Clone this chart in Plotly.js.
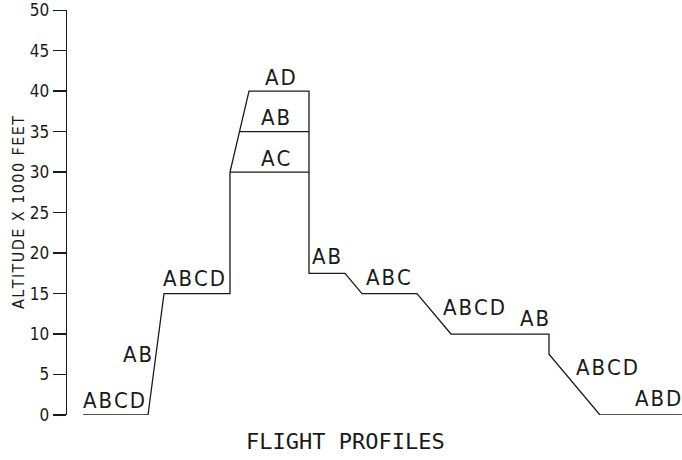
<!DOCTYPE html>
<html>
<head>
<meta charset="utf-8">
<script src="https://cdn.plot.ly/plotly-3.0.1.min.js"></script>
<style>
  html, body { margin: 0; padding: 0; background: #fff; }
  #chart { width: 682px; height: 460px; }
</style>
</head>
<body>
<div id="chart"></div>
<script>
// flight profile (x = distance along the route, arbitrary units; y = altitude in 1000 ft)
var profileX   = [16, 81, 97, 163, 163, 182, 242, 242, 278, 295, 350, 384, 482, 482, 533, 615];
var profileAlt = [0, 0, 15, 15, 30, 40, 40, 17.5, 17.5, 15, 15, 10, 10, 7.5, 0, 0];

// alternative cruise levels inside the top block
var level35X = [173, 242];
var level35Alt = [35, 35];
var level30X = [163, 242];
var level30Alt = [30, 30];

// segment labels
var labelText = ["ABCD", "AB", "ABCD", "AD", "AB", "AC", "AB", "ABC", "ABCD", "AB", "ABCD", "ABD"];
var labelX    = [46.5, 70.5, 126.5, 213, 208.5, 208, 259.5, 321, 406.5, 467, 540, 590.5];
var labelY    = [1.85, 7.5, 16.9, 41.7, 36.7, 31.7, 19.6, 17.0, 13.3, 11.9, 5.9, 2.0];

var yTicks = [0, 5, 10, 15, 20, 25, 30, 35, 40, 45, 50];

function spaced(s) {
  return s.split("").join("\u200A");
}

var ink = "#1a1a1a";
var lineStyle = {color: ink, width: 1.3};
var textFont = "DejaVu Sans Condensed";

var data = [
  {x: profileX, y: profileAlt, type: "scatter", mode: "lines", line: lineStyle, hoverinfo: "skip"},
  {x: level35X, y: level35Alt, type: "scatter", mode: "lines", line: lineStyle, hoverinfo: "skip"},
  {x: level30X, y: level30Alt, type: "scatter", mode: "lines", line: lineStyle, hoverinfo: "skip"}
];

var annotations = [];
for (var i = 0; i < labelText.length; i++) {
  annotations.push({
    x: labelX[i], y: labelY[i], xref: "x", yref: "y",
    text: spaced(labelText[i]), showarrow: false,
    xanchor: "center", yanchor: "middle",
    font: {family: textFont, size: 22, color: ink}
  });
}
// x title, centred under the profile rather than the plot
annotations.push({
  x: (345 - 67) / 615, y: -0.065, xref: "paper", yref: "paper",
  text: "FLIGHT PROFILES", showarrow: false, xanchor: "center", yanchor: "middle",
  font: {family: "DejaVu Sans Mono", size: 22, color: ink}
});

var layout = {
  width: 682,
  height: 460,
  margin: {l: 67, r: 0, t: 10, b: 45},
  paper_bgcolor: "#fff",
  plot_bgcolor: "#fff",
  showlegend: false,
  xaxis: {
    range: [0, 615],
    showline: false, showgrid: false, zeroline: false,
    showticklabels: false, ticks: ""
  },
  yaxis: {
    range: [0, 50.02],
    tickvals: yTicks,
    ticks: "outside", ticklen: 13, tickwidth: 1.3, tickcolor: ink,
    showline: true, linecolor: ink, linewidth: 1.3,
    showgrid: false, zeroline: false,
    tickfont: {family: textFont, size: 17, color: ink},
    title: {text: spaced("ALTITUDE X 1000 FEET"),
            font: {family: textFont, size: 16, color: ink}}
  },
  annotations: annotations
};

Plotly.newPlot("chart", data, layout, {displayModeBar: false, staticPlot: true});
</script>
</body>
</html>
